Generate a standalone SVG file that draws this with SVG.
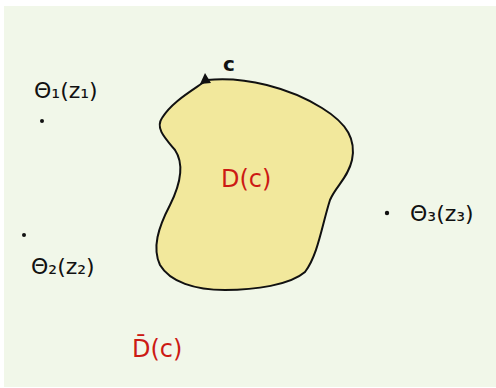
<svg xmlns="http://www.w3.org/2000/svg" width="496" height="388" viewBox="0 0 496 388">
<style>
.lbl{font-family:"DejaVu Sans",sans-serif;font-size:22px;fill:#111}
.red{font-family:"DejaVu Sans",sans-serif;font-size:24px;fill:#cc1a14}
.dot{fill:#111}
</style>
<rect x="0" y="0" width="496" height="388" fill="#ffffff"/>
<rect x="4" y="6" width="492" height="381" fill="#f1f7e9"/>
<g id="region">
<path d="M207,80 C245,76 290,88 322,108 C348,124 356,140 352,160 C348,178 336,186 330,200 C322,225 318,255 305,272 C290,285 255,290 225,290 C195,290 170,282 160,265 C152,248 158,228 170,205 C180,185 185,165 175,150 C165,138 155,128 162,118 C172,102 190,92 207,80 Z" fill="#f2e89c" stroke="#111" stroke-width="2"/>
<text class="red" x="221" y="187">D(c)</text>
</g>
<g id="connectors">
<polygon points="205,73 200,84 211,83" fill="#111"/>
</g>
<g id="c-label"><text x="223" y="71" font-family="DejaVu Sans,sans-serif" font-size="20" font-weight="bold" fill="#111">c</text></g>
<g id="z1"><circle class="dot" cx="42" cy="121" r="2"/><text class="lbl" x="34" y="98">Θ₁(z₁)</text></g>
<g id="z2"><circle class="dot" cx="24" cy="235" r="2"/><text class="lbl" x="31" y="274">Θ₂(z₂)</text></g>
<g id="z3"><circle class="dot" cx="387" cy="213" r="2.2"/><text class="lbl" x="410" y="221">Θ₃(z₃)</text></g>
<g id="complement"><text class="red" x="132" y="357">D̄(c)</text></g>
</svg>
